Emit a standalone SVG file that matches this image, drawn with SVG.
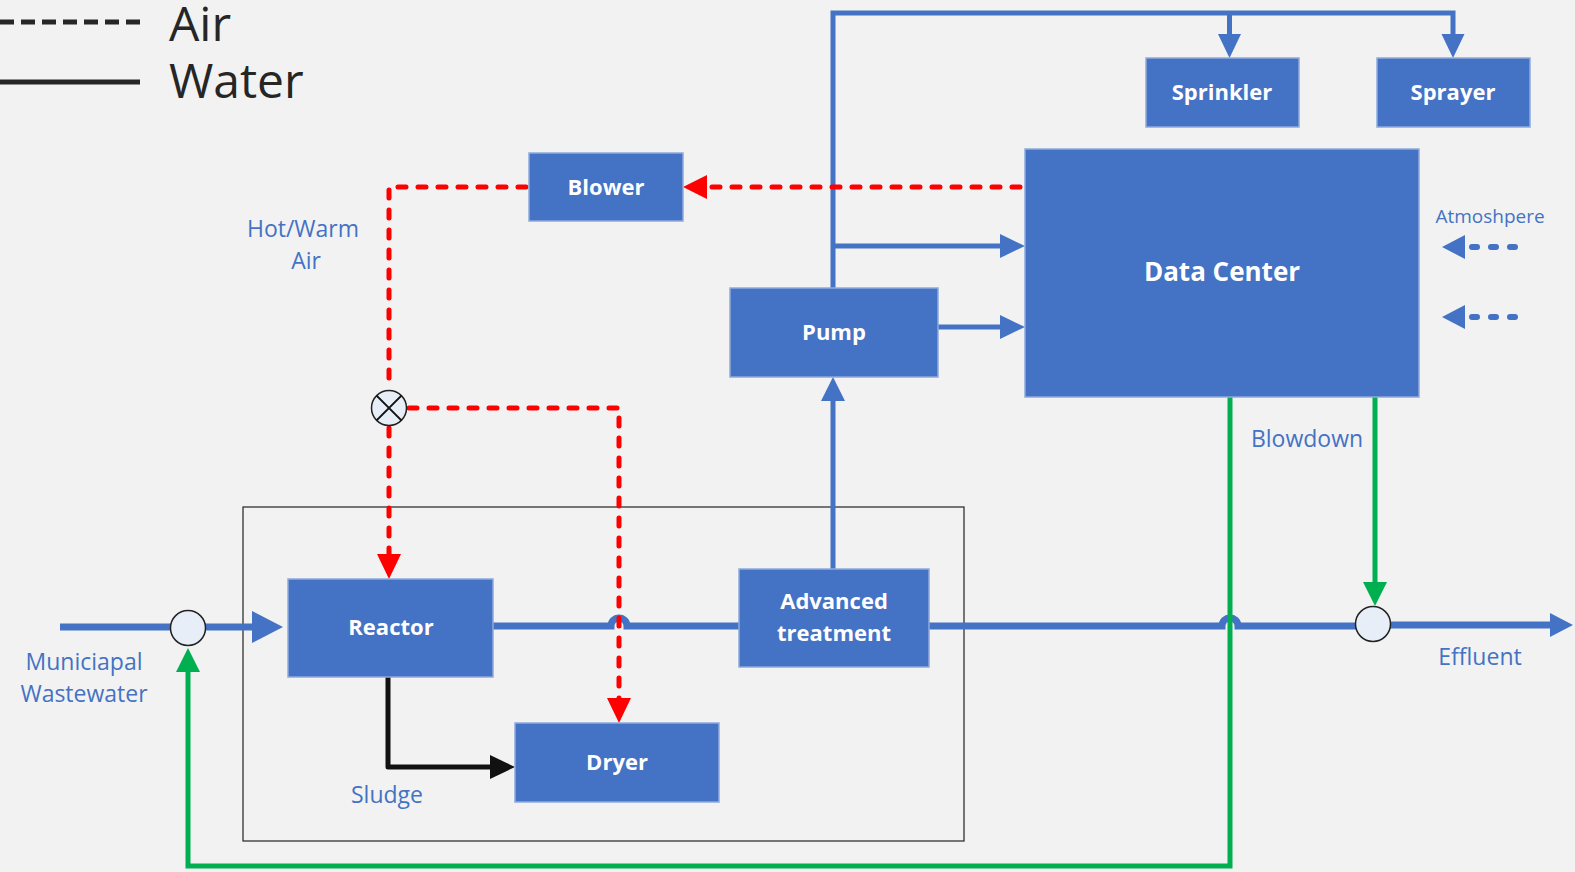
<svg xmlns="http://www.w3.org/2000/svg" width="1575" height="872" viewBox="0 0 1575 872">
<style>
.box{fill:#4472C4;stroke:#8FAADC;stroke-width:1.5}
.bt{font-family:"Open Sans","Liberation Sans",sans-serif;font-weight:700;font-size:22px;fill:#fff;text-anchor:middle}
.lb{font-family:"Open Sans","Liberation Sans",sans-serif;font-size:23px;fill:#4472C4;text-anchor:middle}
.lg{font-family:"Open Sans","Liberation Sans",sans-serif;font-size:48px;fill:#262626}
.blue{fill:none;stroke:#4472C4;stroke-width:5}
.main{fill:none;stroke:#4472C4;stroke-width:7}
.red{fill:none;stroke:#FF0000;stroke-width:5;stroke-dasharray:8 12;stroke-linecap:round}
.grn{fill:none;stroke:#00B050;stroke-width:5}
.blk{fill:none;stroke:#111;stroke-width:5;stroke-linejoin:round}
.hb{fill:#4472C4}.hr{fill:#FF0000}.hg{fill:#00B050}.hk{fill:#111}
.jn{fill:#E8EEF8;stroke:#222;stroke-width:1.5}
</style>
<rect width="1575" height="872" fill="#F2F2F2"/>
<g id="legend">
<line x1="0" y1="22" x2="140" y2="22" stroke="#262626" stroke-width="5" stroke-dasharray="14 7"/>
<line x1="0" y1="82" x2="140" y2="82" stroke="#262626" stroke-width="5"/>
<text class="lg" x="169" y="41">Air</text>
<text class="lg" x="169" y="98">Water</text>
</g>
<g id="boundary"><rect x="243" y="507" width="721" height="334" fill="none" stroke="#222" stroke-width="1.2"/></g>
<g id="connectors">
<path class="blue" d="M833,288 V13 H1453 V40"/>
<path class="blue" d="M1229.5,13 V40"/>
<polygon class="hb" points="1218,34 1241,34 1229.5,58"/>
<polygon class="hb" points="1441.5,34 1464.5,34 1453,58"/>
<path class="blue" d="M833,246 H1002"/>
<polygon class="hb" points="1000,234 1025,246 1000,258"/>
<path class="blue" d="M938,327 H1002"/>
<polygon class="hb" points="1000,315 1025,327 1000,339"/>
<path class="blue" d="M833,569 V398"/>
<polygon class="hb" points="821,401 845,401 833,377"/>
<path class="main" d="M60,627 H171"/>
<path class="main" d="M205,627 H254"/>
<polygon class="hb" points="252,611 283,627 252,643"/>
<path class="main" d="M493,626 H611 A8,8 0 0 1 627,626 H739"/>
<path class="main" d="M929,626 H1222 A8,8 0 0 1 1238,626 H1356"/>
<path class="main" d="M1390,625 H1552"/>
<polygon class="hb" points="1550,613 1573,625 1550,637"/>
<path d="M1472,247 H1515 M1472,317 H1515" stroke="#4472C4" stroke-width="6" stroke-linecap="round" stroke-dasharray="5 14" fill="none"/>
<polygon class="hb" points="1442,247 1465,235 1465,259"/>
<polygon class="hb" points="1442,317 1465,305 1465,329"/>
<path class="red" d="M1020,187 H706"/>
<polygon class="hr" points="707,175 683,187 707,199"/>
<path class="red" d="M526,187 H389 V390"/>
<path class="red" d="M389,428 V556"/>
<polygon class="hr" points="377,554 401,554 389,579"/>
<path class="red" d="M409,408 H619 V700"/>
<polygon class="hr" points="607,698 631,698 619,723"/>
<path class="blk" d="M388,677 V767 H492"/>
<polygon class="hk" points="490,755 515,767 490,779"/>
<path class="grn" d="M1230,397 V866 H188 V670"/>
<polygon class="hg" points="176,672 200,672 188,648"/>
<path class="grn" d="M1375,397 V584"/>
<polygon class="hg" points="1363,582 1387,582 1375,606"/>
</g>
<g id="junction-left"><circle class="jn" cx="188" cy="628" r="17.5"/></g>
<g id="junction-effluent"><circle class="jn" cx="1373" cy="624" r="17.5"/></g>
<g id="mixer"><circle class="jn" cx="389" cy="408" r="17.5"/><path d="M376.6,395.6 L401.4,420.4 M401.4,395.6 L376.6,420.4" stroke="#111" stroke-width="2"/></g>
<g id="sprinkler"><rect class="box" x="1146" y="58" width="153" height="69"/><text class="bt" x="1222" y="100">Sprinkler</text></g>
<g id="sprayer"><rect class="box" x="1377" y="58" width="153" height="69"/><text class="bt" x="1453" y="100">Sprayer</text></g>
<g id="datacenter"><rect class="box" x="1025" y="149" width="394" height="248"/><text class="bt" x="1222" y="281" style="font-size:26px">Data Center</text></g>
<g id="blower"><rect class="box" x="529" y="153" width="154" height="68"/><text class="bt" x="606" y="195">Blower</text></g>
<g id="pump"><rect class="box" x="730" y="288" width="208" height="89"/><text class="bt" x="834" y="340">Pump</text></g>
<g id="advanced"><rect class="box" x="739" y="569" width="190" height="98"/><text class="bt" x="834" y="609">Advanced</text><text class="bt" x="834" y="641">treatment</text></g>
<g id="reactor"><rect class="box" x="288" y="579" width="205" height="98"/><text class="bt" x="391" y="635">Reactor</text></g>
<g id="dryer"><rect class="box" x="515" y="723" width="204" height="79"/><text class="bt" x="617" y="770">Dryer</text></g>
<g id="labels">
<text class="lb" x="303" y="237">Hot/Warm</text>
<text class="lb" x="306" y="269">Air</text>
<text class="lb" x="84" y="670">Municiapal</text>
<text class="lb" x="84" y="702">Wastewater</text>
<text class="lb" x="387" y="803">Sludge</text>
<text class="lb" x="1307" y="447">Blowdown</text>
<text class="lb" x="1480" y="665">Effluent</text>
<text class="lb" x="1490" y="223" style="font-size:19px">Atmoshpere</text>
</g>
</svg>
